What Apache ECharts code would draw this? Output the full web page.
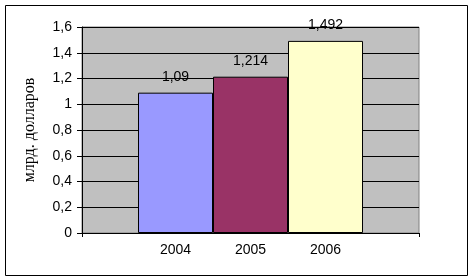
<!DOCTYPE html>
<html><head><meta charset="utf-8">
<script src="https://cdn.jsdelivr.net/npm/echarts@6/dist/echarts.min.js"></script>
<style>html,body{margin:0;padding:0;background:#fff}#c{width:474px;height:280px}</style>
</head><body><div id="c"></div>
<script>
const categories = ['2004', '2005', '2006'];
const values = [1.09, 1.214, 1.492];
const barColors = ['#9999FF', '#993366', '#FFFFCC'];
const yTitle = 'млрд. долларов';
const yMin = 0, yMax = 1.6, yStep = 0.2;

const chart = echarts.init(document.getElementById('c'), null, {renderer: 'canvas'});
const fmt = v => String(+v.toFixed(3)).replace('.', ',');
chart.setOption({
  animation: false,
  backgroundColor: '#fff',
  graphic: [{type: 'rect', shape: {x: 5.5, y: 5.5, width: 462, height: 270}, style: {fill: 'none', stroke: '#000', lineWidth: 1}, z: 100}],
  grid: [
    {left: 82, top: 27, width: 337, height: 206, show: true, backgroundColor: '#C0C0C0', borderColor: '#808080', borderWidth: 1},
    {left: 138, top: 27, width: 225, height: 206}
  ],
  xAxis: [
    {gridIndex: 0, type: 'category', data: [''], boundaryGap: true,
     axisLine: {lineStyle: {color: '#000', width: 1}}, axisTick: {show: true, length: 4, lineStyle: {color: '#000'}}, axisLabel: {show: false}},
    {gridIndex: 1, type: 'category', data: categories, axisLine: {show: false}, axisTick: {show: false},
     axisLabel: {color: '#000', fontFamily: 'Liberation Sans, Arial', fontSize: 14, margin: 10}}
  ],
  yAxis: [
    {gridIndex: 0, type: 'value', min: yMin, max: yMax, interval: yStep,
     name: yTitle, nameLocation: 'middle', nameGap: 44,
     nameTextStyle: {color: '#000', fontFamily: 'Liberation Serif, Times New Roman', fontSize: 16},
     axisLine: {show: true, lineStyle: {color: '#000', width: 1}},
     axisTick: {show: true, inside: false, length: 5, lineStyle: {color: '#000'}},
     axisLabel: {color: '#000', fontFamily: 'Liberation Sans, Arial', fontSize: 14, margin: 10, formatter: fmt},
     splitLine: {show: true, lineStyle: {color: '#000', width: 1}}},
    {gridIndex: 1, type: 'value', min: yMin, max: yMax, interval: yStep, show: false, splitLine: {show: false}}
  ],
  series: [{
    type: 'bar', xAxisIndex: 1, yAxisIndex: 1, barCategoryGap: '0%', z: 5,
    data: values.map((v, i) => ({value: v, itemStyle: {color: barColors[i]}})),
    itemStyle: {borderColor: '#000', borderWidth: 1},
    label: {show: true, position: 'top', distance: 9, color: '#000', fontFamily: 'Liberation Sans, Arial', fontSize: 14,
      formatter: p => fmt(p.value)}
  }]
});
</script></body></html>
